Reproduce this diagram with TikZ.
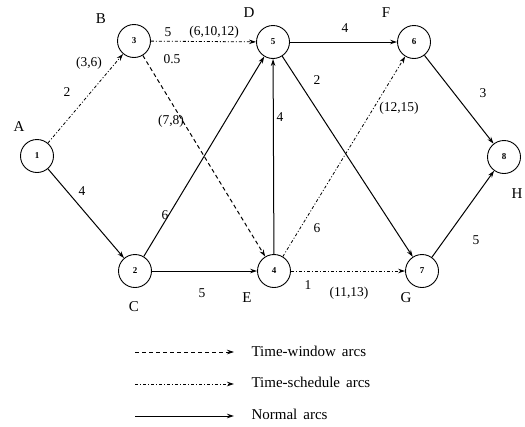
\documentclass[tikz,border=0pt]{standalone}
\usepackage{fontspec}
\setmainfont{Liberation Serif}
\usetikzlibrary{arrows.meta}
\begin{document}
\begin{tikzpicture}[x=1pt,y=-1pt,
  ev/.style={circle,draw,line width=0.9pt,minimum size=33pt,inner sep=0pt,font=\fontsize{9}{9}\selectfont\bfseries},
  lett/.style={font=\fontsize{15}{15}\selectfont},
  leg/.style={anchor=west,font=\fontsize{15}{15}\selectfont},
  num/.style={font=\fontsize{13.5}{13.5}\selectfont,inner sep=0pt},
  arc/.style={line width=1pt,-{Stealth[length=7pt,width=4.5pt]}},
  normal/.style={arc},
  window/.style={arc,dash pattern=on 4pt off 3pt},
  sched/.style={arc,line width=0.8pt,dash pattern=on 3pt off 2pt on 1pt off 2pt}]
\useasboundingbox (0,0) rectangle (525,426);
% nodes
\node[ev] (n1) at (37,156) {1};
\node[ev] (n3) at (134,41) {3};
\node[ev] (n5) at (273,42) {5};
\node[ev] (n6) at (414,42) {6};
\node[ev] (n8) at (504,157) {8};
\node[ev] (n2) at (135,271) {2};
\node[ev] (n4) at (274,271) {4};
\node[ev] (n7) at (422,271) {7};
% letters
\node[lett] (lA) at (19,127) {A};
\node[lett] (lB) at (101,19) {B};
\node[lett] (lD) at (249,13) {D};
\node[lett] (lF) at (386,13) {F};
\node[lett] (lH) at (517,194) {H};
\node[lett] (lC) at (134,307) {C};
\node[lett] (lE) at (247,298) {E};
\node[lett] (lG) at (406,298) {G};
% arcs
\draw[sched] (n1) -- (n3);
\draw[normal] (n1) -- (n2);
\draw[sched] (n3) -- (n5);
\draw[window] (n3) -- (n4);
\draw[normal] (n2) -- (n5);
\draw[normal] (n2) -- (n4);
\draw[normal] (n4) -- (n5);
\draw[normal] (n5) -- (n6);
\draw[normal] (n5) -- (n7);
\draw[sched] (n4) -- (n6);
\draw[sched] (n4) -- (n7);
\draw[normal] (n6) -- (n8);
\draw[normal] (n7) -- (n8);
% arc labels
\node[num] (t1) at (67,92) {2};
\node[num] (t2) at (89,63) {(3,6)};
\node[num] (t3) at (168,32) {5};
\node[num] (t4) at (214,32) {(6,10,12)};
\node[num] (t5) at (172,59) {0.5};
\node[num] (t6) at (171,121) {(7,8)};
\node[num] (t7) at (82,191) {4};
\node[num] (t8) at (165,215) {6};
\node[num] (t9) at (280,117) {4};
\node[num] (t10) at (345,28) {4};
\node[num] (t11) at (317,80) {2};
\node[num] (t12) at (399,108) {(12,15)};
\node[num] (t13) at (483,93) {3};
\node[num] (t14) at (317,228) {6};
\node[num] (t15) at (476,240) {5};
\node[num] (t16) at (308,285) {1};
\node[num] (t17) at (349,293) {(11,13)};
\node[num] (t18) at (202,293) {5};
% legend
\coordinate (a1) at (135,352); \coordinate (b1) at (234,352);
\coordinate (a2) at (135,384); \coordinate (b2) at (234,384);
\coordinate (a3) at (135,416); \coordinate (b3) at (234,416);
\draw[window,line width=0.7pt] (a1) -- (b1);
\draw[sched] (a2) -- (b2);
\draw[normal] (a3) -- (b3);
\node[leg] (g1) at (248,351) {Time-window\hspace{6pt}arcs};
\node[leg] (g2) at (248,382) {Time-schedule\hspace{6pt}arcs};
\node[leg] (g3) at (248,414) {Normal\hspace{6pt}arcs};
\end{tikzpicture}
\end{document}
